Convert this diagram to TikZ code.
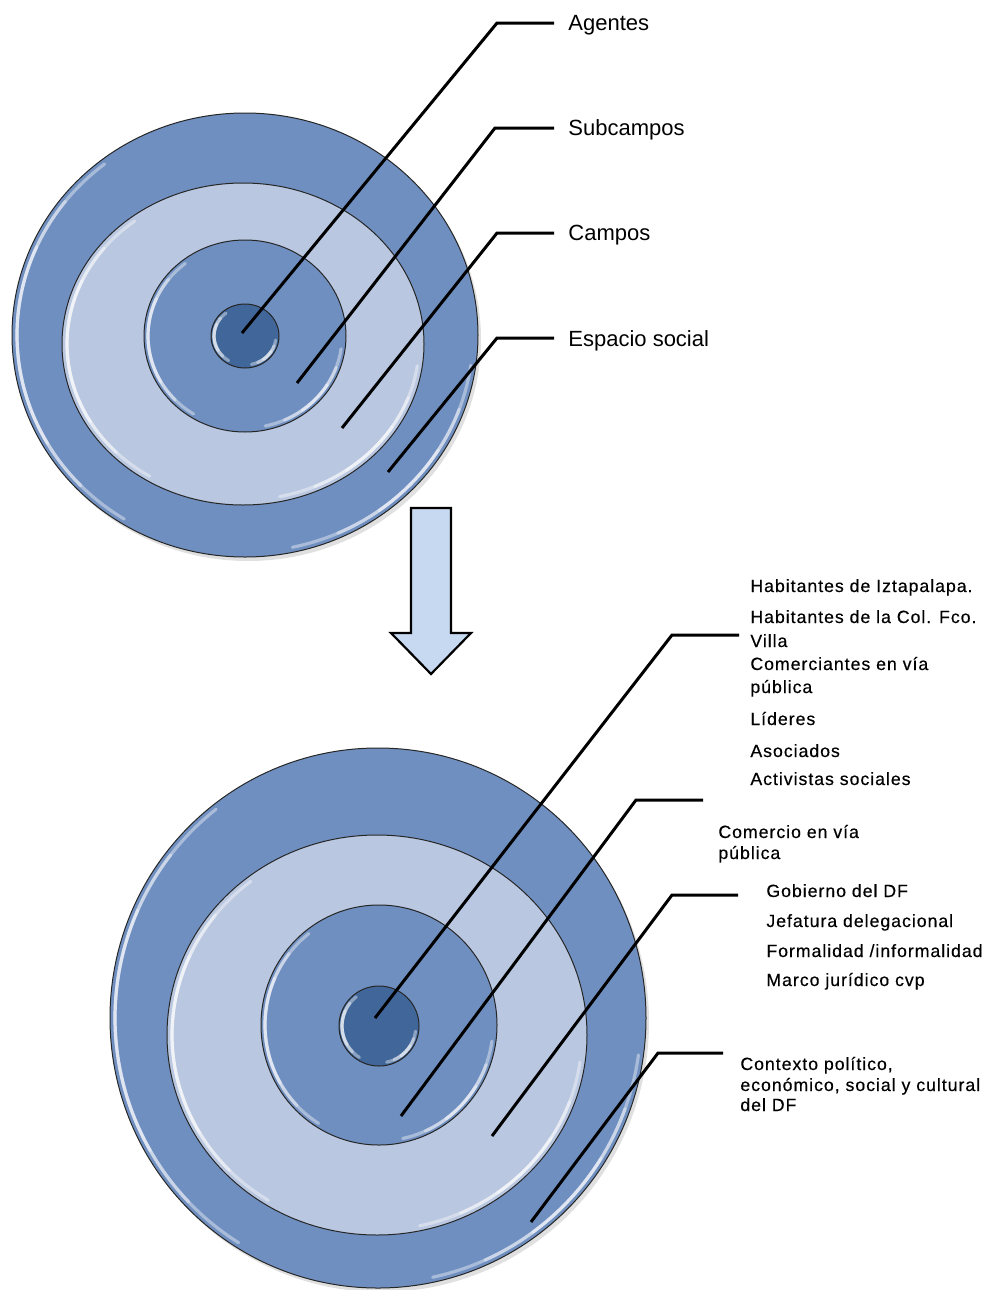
\documentclass[tikz,border=0pt]{standalone}
\usepackage{fontspec}
\setmainfont{Liberation Sans}
\newfontfamily\listfont[LetterSpace=5.5, FakeBold=0.35]{Liberation Sans}
\usetikzlibrary{calc}

\definecolor{ringdark}{HTML}{6F8FC0}
\definecolor{ringlight}{HTML}{B9C7E0}
\definecolor{ringcore}{HTML}{41679A}
\definecolor{arrowfill}{HTML}{C6D9F1}

\tikzset{
  rim/.style={draw=black!85, line width=0.5pt},
  leader/.style={draw=black, line width=1.5pt},
  toplabel/.style={anchor=base west, inner sep=0pt, font=\fontsize{11}{13}\selectfont},
  listlabel/.style={anchor=base west, inner sep=0pt, font=\listfont\fontsize{8.85}{11}\selectfont},
  hl/.style={white, line cap=round, line width=1.6pt, opacity=0.4},
  flowarrow/.style={draw=black, line width=1.1pt, fill=arrowfill, line join=miter},
}

% glossy disc: centre x, centre y, x radius, y radius, fill colour, inset of the sheen
\newcommand{\glossdisc}[6]{%
  \fill[#5] (#1,#2) ellipse[x radius=#3, y radius=#4];
  \foreach \a/\b in {128/238, 142/224, 156/210} {
    \draw[hl] (#1,#2) ++(\a:{#3-#6} and {#4-#6})
      arc[start angle=\a, end angle=\b, x radius=#3-#6, y radius=#4-#6];
  }
  \foreach \a/\b in {-78/-8, -66/-20, -54/-32} {
    \draw[hl] (#1,#2) ++(\a:{#3-#6} and {#4-#6})
      arc[start angle=\a, end angle=\b, x radius=#3-#6, y radius=#4-#6];
  }
  \draw[rim] (#1,#2) ellipse[x radius=#3, y radius=#4];
}

\begin{document}
\begin{tikzpicture}[x=0.5pt, y=0.5pt]
\useasboundingbox (0,0) rectangle (993,-1290);

% ---------- upper target ----------
\fill[black, opacity=0.12] (248,-339) ellipse[x radius=233, y radius=222];
\glossdisc{245}{-335}{233}{222}{ringdark}{5}
\glossdisc{243}{-344}{181}{161}{ringlight}{5}
\glossdisc{245}{-336}{101}{96}{ringdark}{4}
\glossdisc{245}{-336}{34}{32}{ringcore}{3}

\coordinate (ta1) at (242,-333); \coordinate (ta2) at (497,-23);  \coordinate (ta3) at (554,-23);
\coordinate (tb1) at (297,-383); \coordinate (tb2) at (495,-128); \coordinate (tb3) at (554,-128);
\coordinate (tc1) at (342,-428); \coordinate (tc2) at (497,-233); \coordinate (tc3) at (554,-233);
\coordinate (td1) at (388,-472); \coordinate (td2) at (497,-338); \coordinate (td3) at (554,-338);

\draw[leader] (ta1) -- (ta2) -- (ta3);
\draw[leader] (tb1) -- (tb2) -- (tb3);
\draw[leader] (tc1) -- (tc2) -- (tc3);
\draw[leader] (td1) -- (td2) -- (td3);

\node[toplabel] (agentes)  at (568,-31)  {Agentes};
\node[toplabel] (subcamp)  at (568,-135) {Subcampos};
\node[toplabel] (campos)   at (568,-240) {Campos};
\node[toplabel] (espacio)  at (568,-346) {Espacio social};

% ---------- block arrow ----------
\draw[flowarrow] (411,-508) -- (451,-508) -- (451,-633) -- (471,-633)
  -- (431,-674) -- (391,-633) -- (411,-633) -- cycle;

% ---------- lower target ----------
\fill[black, opacity=0.12] (381,-1022) ellipse[x radius=268, y radius=270];
\glossdisc{378}{-1018}{268}{270}{ringdark}{5}
\glossdisc{377}{-1035}{210}{200}{ringlight}{5}
\glossdisc{379}{-1025}{118}{120}{ringdark}{4}
\glossdisc{379}{-1026}{40}{40}{ringcore}{3}

\coordinate (ba1) at (375,-1018); \coordinate (ba2) at (672,-635);  \coordinate (ba3) at (739,-635);
\coordinate (bb1) at (401,-1116); \coordinate (bb2) at (636,-800);  \coordinate (bb3) at (703,-800);
\coordinate (bc1) at (492,-1136); \coordinate (bc2) at (672,-895);  \coordinate (bc3) at (738,-895);
\coordinate (bd1) at (531,-1222); \coordinate (bd2) at (658,-1053); \coordinate (bd3) at (723,-1053);

\draw[leader] (ba1) -- (ba2) -- (ba3);
\draw[leader] (bb1) -- (bb2) -- (bb3);
\draw[leader] (bc1) -- (bc2) -- (bc3);
\draw[leader] (bd1) -- (bd2) -- (bd3);

% agents
\node[listlabel] (ag1)  at (750,-592) {Habitantes de Iztapalapa.};
\node[listlabel] (ag2a) at (750,-623) {Habitantes de la Col. Fco.};
\node[listlabel] (ag2b) at (750,-647) {Villa};
\node[listlabel] (ag3a) at (750,-670) {Comerciantes en vía};
\node[listlabel] (ag3b) at (750,-693) {pública};
\node[listlabel] (ag4)  at (750,-725) {Líderes};
\node[listlabel] (ag5)  at (750,-757) {Asociados};
\node[listlabel] (ag6)  at (750,-785) {Activistas sociales};

% subfield
\node[listlabel] (sc1a) at (718,-838) {Comercio en vía};
\node[listlabel] (sc1b) at (718,-859) {pública};

% fields
\node[listlabel] (cp1) at (766,-897) {Gobierno del DF};
\node[listlabel] (cp2) at (766,-927) {Jefatura delegacional};
\node[listlabel] (cp3) at (766,-957) {Formalidad /informalidad};
\node[listlabel] (cp4) at (766,-986) {Marco jurídico cvp};

% social space
\node[listlabel] (es1) at (740,-1070) {Contexto político,};
\node[listlabel] (es2) at (740,-1091) {económico, social y cultural};
\node[listlabel] (es3) at (740,-1111) {del DF};

\end{tikzpicture}
\end{document}
